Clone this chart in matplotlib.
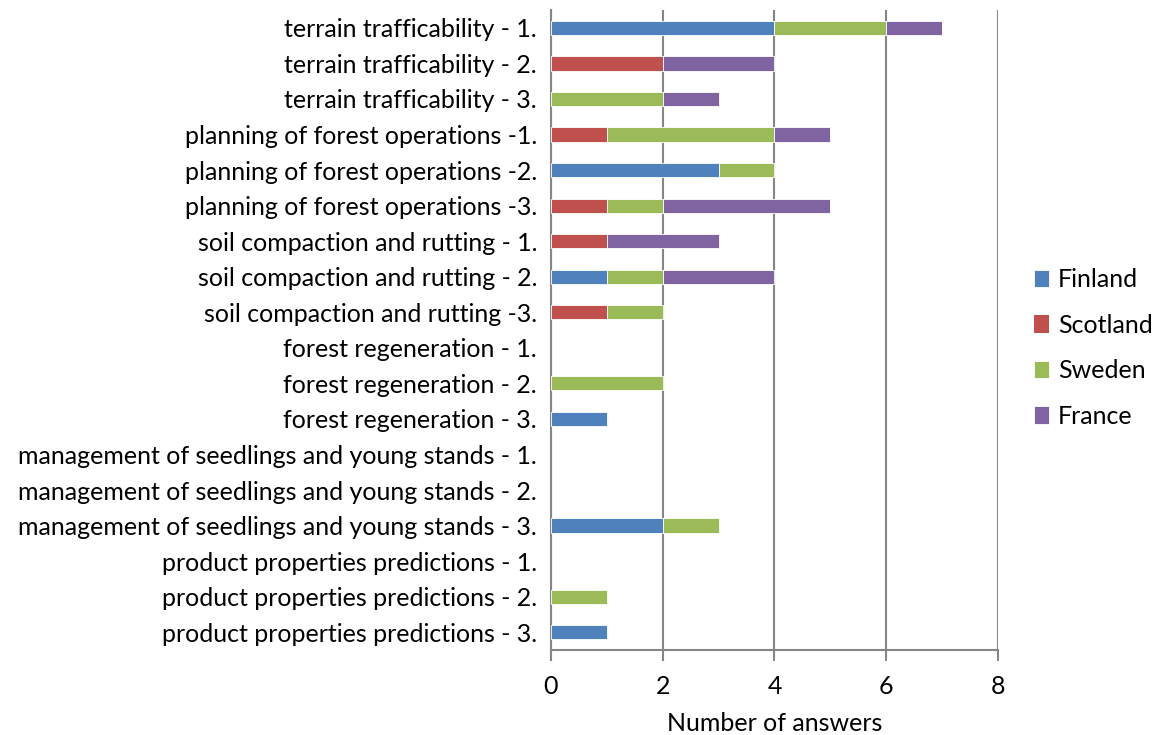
import numpy as np
import matplotlib.pyplot as plt

plt.rcParams['font.family'] = ['Lato', 'DejaVu Sans']

categories = [
    "terrain trafficability - 1.",
    "terrain trafficability - 2.",
    "terrain trafficability - 3.",
    "planning of forest operations -1.",
    "planning of forest operations -2.",
    "planning of forest operations -3.",
    "soil compaction and rutting - 1.",
    "soil compaction and rutting - 2.",
    "soil compaction and rutting -3.",
    "forest regeneration - 1.",
    "forest regeneration - 2.",
    "forest regeneration - 3.",
    "management of seedlings and young stands - 1.",
    "management of seedlings and young stands - 2.",
    "management of seedlings and young stands - 3.",
    "product properties predictions - 1.",
    "product properties predictions - 2.",
    "product properties predictions - 3.",
]

finland  = [4, 0, 0, 0, 3, 0, 0, 1, 0, 0, 0, 1, 0, 0, 2, 0, 0, 1]
scotland = [0, 2, 0, 1, 0, 1, 1, 0, 1, 0, 0, 0, 0, 0, 0, 0, 0, 0]
sweden   = [2, 0, 2, 3, 1, 1, 0, 1, 1, 0, 2, 0, 0, 0, 1, 0, 1, 0]
france   = [1, 2, 1, 1, 0, 3, 2, 2, 0, 0, 0, 0, 0, 0, 0, 0, 0, 0]

series = [("Finland", finland, "#4F81BD"),
          ("Scotland", scotland, "#C0504D"),
          ("Sweden", sweden, "#9BBB59"),
          ("France", france, "#8064A2")]

fig = plt.figure(figsize=(11.57, 7.35), dpi=100)
ax = fig.add_axes([0.4762, 0.1156, 0.3864, 0.8707])

y = np.arange(len(categories))
left = np.zeros(len(categories))
for name, vals, col in series:
    vals = np.array(vals, dtype=float)
    # white edges only on segments that exist, so empty rows stay blank
    lw = np.where(vals > 0, 0.6, 0.0)
    ax.barh(y, vals, left=left, height=0.4, color=col, label=name,
            edgecolor='white', linewidth=lw, zorder=3)
    left += vals

ax.set_ylim(len(categories) - 0.5, -0.5)
ax.set_xlim(0, 8)
ax.set_xticks([0, 2, 4, 6, 8])
ax.set_yticks(y)
ax.set_yticklabels(categories)
ax.tick_params(axis='y', length=0, pad=10, labelsize=18)
ax.tick_params(axis='x', length=8, width=1.5, color='#868686', direction='out',
               pad=10, labelsize=18)
ax.xaxis.grid(True, color='#868686', linewidth=1.5, zorder=0)
for s in ['top', 'right']:
    ax.spines[s].set_visible(False)
for s in ['left', 'bottom']:
    ax.spines[s].set_color('#868686')
    ax.spines[s].set_linewidth(1.5)
ax.set_xlabel("Number of answers", fontsize=18, labelpad=10)

ax.legend(loc='center left', bbox_to_anchor=(1.059, 0.472), frameon=False,
          fontsize=18, handlelength=0.6, handleheight=0.7,
          handletextpad=0.35, labelspacing=0.9, borderaxespad=0)

fig.savefig("out.png", dpi=100)
